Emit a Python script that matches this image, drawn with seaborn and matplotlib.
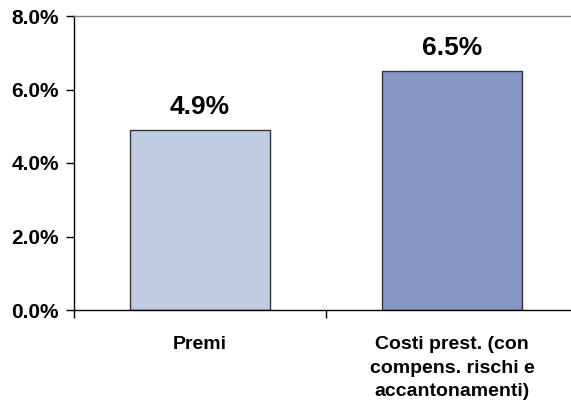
import pandas as pd
import matplotlib.pyplot as plt
import seaborn as sns

# Data
categories = ["Premi", "Costi prest. (con\ncompens. rischi e\naccantonamenti)"]
values = [4.9, 6.5]
labels = ["4.9%", "6.5%"]
bar_colors = ["#C0CCE3", "#8497C4"]

df = pd.DataFrame({"cat": categories, "val": values})

sns.set_style("white")
plt.rcParams["font.family"] = ["Liberation Sans", "DejaVu Sans"]
plt.rcParams["font.weight"] = "bold"
plt.rcParams["text.color"] = "black"
plt.rcParams["xtick.color"] = "black"
plt.rcParams["ytick.color"] = "black"

fig = plt.figure(figsize=(5.71, 4.07), dpi=100)
ax = fig.add_axes([74 / 571, 97 / 407, 497 / 571, 294 / 407])

sns.barplot(
    data=df,
    x="cat",
    y="val",
    hue="cat",
    palette=bar_colors,
    saturation=1,
    width=0.556,
    edgecolor="#333333",
    linewidth=1.0,
    legend=False,
    ax=ax,
)

# value labels
for i, (v, t) in enumerate(zip(values, labels)):
    ax.annotate(
        t,
        xy=(i, v),
        xytext=(0, 8),
        textcoords="offset points",
        ha="center",
        va="bottom",
        fontsize=19,
        fontweight="bold",
        color="black",
    )

ax.set_ylim(0, 8)
ax.set_xlim(-0.5, -0.5 + 497 / 252)
ax.set_yticks([0, 2, 4, 6, 8])
ax.set_yticklabels(["0.0%", "2.0%", "4.0%", "6.0%", "8.0%"], fontsize=15, fontweight="bold")
ax.set_xticks([0, 1])
ax.set_xticklabels(categories, fontsize=14, fontweight="bold", linespacing=1.5)
ax.set_xlabel("")
ax.set_ylabel("")

# x ticks at category boundaries
ax.set_xticks([-0.5, 0.5], minor=True)
ax.tick_params(axis="x", which="major", bottom=True, length=0, pad=19)
ax.tick_params(axis="x", which="minor", bottom=True, length=6, width=1, color="black", direction="out")
ax.tick_params(axis="y", left=True, length=6, width=1, color="black", direction="out", pad=5)

ax.spines["left"].set_color("black")
ax.spines["bottom"].set_color("black")
ax.spines["top"].set_color("#808080")
ax.spines["right"].set_visible(False)
for s in ["left", "bottom", "top"]:
    ax.spines[s].set_linewidth(1.0)

plt.savefig("out.png", dpi=100)
plt.close()
